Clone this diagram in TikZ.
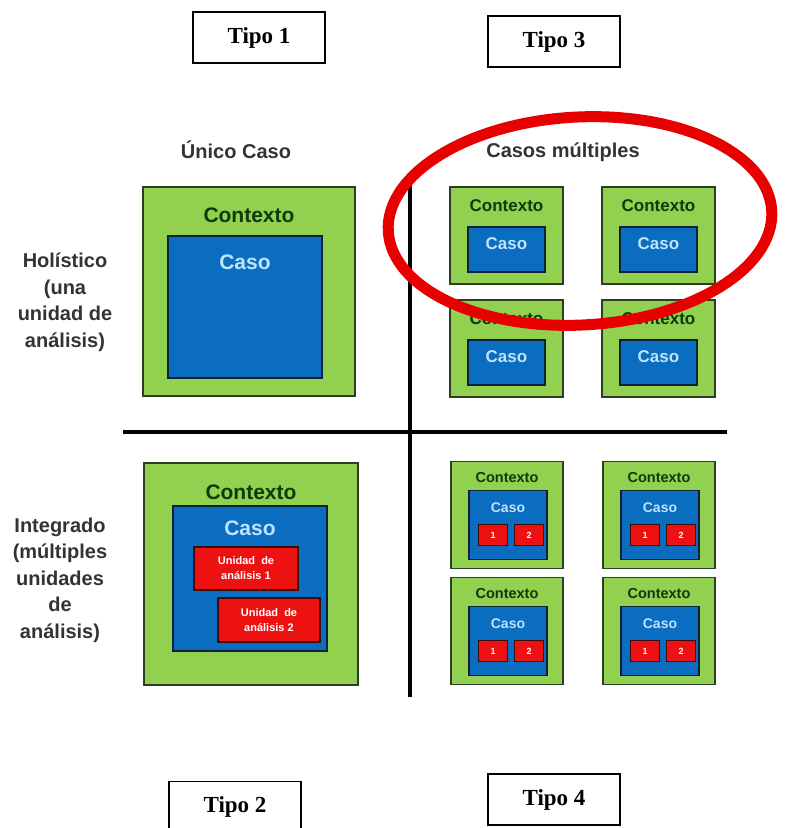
\documentclass[tikz,border=0pt]{standalone}
\usepackage{fontspec}
\setmainfont{Liberation Serif}
\setsansfont{Liberation Sans}
\usepackage{tikz}
\usepackage{xcolor}

\definecolor{ctxgreen}{HTML}{92D050}
\definecolor{ctxedge}{HTML}{2B3F22}
\definecolor{ctxdark}{HTML}{0E3A0E}
\definecolor{casoblue}{HTML}{0A6DBF}
\definecolor{casoedge}{HTML}{0D2238}
\definecolor{casolight}{HTML}{BFE2FF}
\definecolor{unired}{HTML}{EE1111}
\definecolor{uniedge}{HTML}{3B0C0C}
\definecolor{labelgray}{HTML}{333333}
\definecolor{ringred}{HTML}{E80000}

\begin{document}
\begin{tikzpicture}[x=1pt,y=-1pt,
    tipo/.style={draw,line width=1.2pt,minimum width=132pt,minimum height=51pt,
      font=\fontsize{23}{27}\selectfont\bfseries},
    heading/.style={text=labelgray,font=\sffamily\bfseries\fontsize{20}{24}\selectfont},
    rowlabel/.style={align=center,text=labelgray,font=\sffamily\bfseries\fontsize{20}{26.5}\selectfont},
    contexto/.style={draw=ctxedge,fill=ctxgreen,line width=1.5pt,inner sep=0pt},
    caso/.style={draw=casoedge,fill=casoblue,line width=1.5pt,inner sep=0pt},
    unidad/.style={draw=uniedge,fill=unired,line width=1.2pt,inner sep=0pt,text=white,align=center,
      font=\sffamily\bfseries\fontsize{#1}{15}\selectfont},
    ctxlbl/.style={text=ctxdark,inner sep=0pt,font=\sffamily\bfseries\fontsize{#1}{#1}\selectfont},
    casolbl/.style={text=casolight,inner sep=0pt,font=\sffamily\bfseries\fontsize{#1}{#1}\selectfont}]
  \useasboundingbox (0,0) rectangle (787,828);

  \node[tipo] (tipo1) at (259,37.5) {Tipo 1};
  \node[tipo] (tipo3) at (554,41.5) {Tipo 3};
  \node[tipo] (tipo2) at (235,807) {Tipo 2};
  \node[tipo] (tipo4) at (554,799.5) {Tipo 4};

  \node[heading] (unico) at (236,150) {Único Caso};
  \node[heading] (multi) at (563,152) {Casos múltiples};
  \node[rowlabel] (holis) at (65,302) {Holístico\\(una\\unidad de\\análisis)};
  \node[rowlabel] (integ) at (60,580) {Integrado\\(múltiples\\unidades\\de\\análisis)};

  \coordinate (vtop) at (410,178);
  \coordinate (vbot) at (410,697);
  \coordinate (hleft) at (123,432);
  \coordinate (hright) at (727,432);
  \draw[line width=3.5pt] (vtop) -- (vbot) (hleft) -- (hright);

  % tipo 1
  \node[contexto,minimum width=212pt,minimum height=209pt] (ctx1) at (249,291.5) {};
  \node[caso,minimum width=154pt,minimum height=142pt] (caso1) at (245,307) {};
  \node[ctxlbl=21] at (ctx1.north |- 0,215) {Contexto};
  \node[casolbl=21] at (caso1.north |- 0,262) {Caso};

  % tipo 2
  \node[contexto,minimum width=214pt,minimum height=222pt] (ctx2) at (251,574) {};
  \node[caso,minimum width=154pt,minimum height=145pt] (caso2) at (250,578.5) {};
  \node[ctxlbl=21] at (ctx2.north |- 0,492) {Contexto};
  \node[casolbl=21] at (caso2.north |- 0,528) {Caso};
  \node[unidad=11,minimum width=104pt,minimum height=43pt] (uni1) at (246,568.5) {Unidad\ \ de\\análisis 1};
  \node[unidad=11,minimum width=102pt,minimum height=44pt] (uni2) at (269,620) {Unidad\ \ de\\análisis 2};

  % tipo 3
  \foreach \cx/\cy/\n in {506.5/235.5/a,658.5/235.5/b,506.5/348.5/c,658.5/348.5/d} {
    \node[contexto,minimum width=113pt,minimum height=97pt] (ctx3\n) at (\cx,\cy) {};
    \node[caso,minimum width=77pt,minimum height=45pt] (caso3\n) at ([yshift=-14pt]ctx3\n.center) {};
    \node[ctxlbl=17] at ([yshift=-19pt]ctx3\n.north) {Contexto};
    \node[casolbl=17] at ([yshift=6pt]caso3\n.center) {Caso};
  }

  % tipo 4
  \foreach \cx/\cy/\n in {507/515/a,659/515/b,507/631/c,659/631/d} {
    \node[contexto,minimum width=112pt,minimum height=107pt] (ctx4\n) at (\cx,\cy) {};
    \node[caso,minimum width=78pt,minimum height=69pt] (caso4\n) at ([xshift=1pt,yshift=-10pt]ctx4\n.center) {};
    \node[ctxlbl=14.5] at ([yshift=-17pt]ctx4\n.north) {Contexto};
    \node[casolbl=14] at ([yshift=17pt]caso4\n.center) {Caso};
    \node[unidad=9,minimum width=29pt,minimum height=21pt] (uni4\n1) at ([xshift=-15pt,yshift=-10pt]caso4\n.center) {1};
    \node[unidad=9,minimum width=29pt,minimum height=21pt] (uni4\n2) at ([xshift=21pt,yshift=-10pt]caso4\n.center) {2};
  }

  \draw[ringred,line width=11pt] (580,221) ellipse [x radius=192,y radius=104,rotate=3];
\end{tikzpicture}
\end{document}
